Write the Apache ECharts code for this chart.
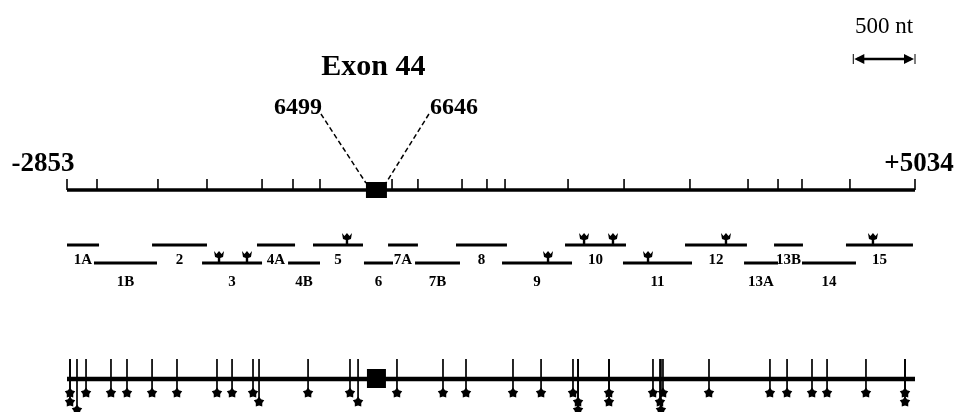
<!DOCTYPE html>
<html><head><meta charset="utf-8">
<script src="https://cdn.jsdelivr.net/npm/echarts@6/dist/echarts.min.js"></script>
<style>html,body{margin:0;padding:0;background:#fff}#c{width:958px;height:412px}</style>
</head><body><div id="c"></div>
<script>
// ---- data (nucleotide positions) ----
const geneRange = [-2853, 5034];
const endLabels = ['-2853', '+5034'];
const exonName = 'Exon 44';
const exonBounds = ['6499', '6646'];
const exonCenter = 25;
const scaleBarLabel = '500 nt';
const scaleBarNt = [4460, 5034];
const rulerTicks = [-2853, -2574, -2007, -1551, -1039, -751, -500, 170, 411, 821, 1053, 1221, 1807, 2328, 2941, 3481, 3760, 3983, 4429, 5034];
const fragNamesTop = ['1A', '2', '4A', '5', '7A', '8', '10', '12', '13B', '15'];
const fragStartTop = [-2853, -2062, -1086, -565, 133, 765, 1779, 2895, 3723, 4392];
const fragEndTop = [-2555, -1551, -732, -100, 411, 1239, 2346, 3471, 3992, 5015];
const fragNamesBottom = ['1B', '3', '4B', '6', '7B', '9', '11', '13A', '14'];
const fragStartBottom = [-2602, -1597, -797, -91, 384, 1193, 2318, 3444, 3983];
const fragEndBottom = [-2016, -1039, -500, 179, 802, 1844, 2960, 3760, 4485];
const arrowsTop = [-249, 1956, 2225, 3276, 4643];
const arrowsBottom = [-1439, -1179, 1621, 2551];
const mutationPos = [-2825, -2825, -2760, -2676, -2444, -2295, -2062, -1830, -1458, -1318, -1123, -1067, -611, -221, -146, 216, 644, 858, 1295, 1556, 1853, 1900, 1900, 2188, 2188, 2597, 2690, 2662, 2671, 3118, 3685, 3844, 4076, 4216, 4578, 4941, 4941];
const mutationStack = [0, 1, 2, 0, 0, 0, 0, 0, 0, 0, 0, 1, 0, 0, 1, 0, 0, 0, 0, 0, 0, 1, 2, 0, 1, 0, 0, 1, 2, 0, 0, 0, 0, 0, 0, 0, 1];

// ---- layout (pixel rows on a 0..412 y scale) ----
const FONT = '"Liberation Serif", "Times New Roman", serif';
const ROW = { title: 67, scaleLabel: 27, scaleBar: 59, bound: 108, endLabel: 164, ruler: 190, tickTop: 179,
  fragTop: 245, fragBottom: 263, labTop: 260, labBottom: 282, mutTop: 359, mutLine: 379 };
const starRows = [393, 402, 410];

function txt(x, y, text, size, weight, align) {
  return { type: 'text', x: x, y: y, style: { text: text, fill: '#000', fontFamily: FONT, fontSize: size,
    fontWeight: weight, align: align || 'center', verticalAlign: 'middle' } };
}
function hline(api, a, b, y, w) {
  const p1 = api.coord([a, y]), p2 = api.coord([b, y]);
  return { type: 'line', shape: { x1: p1[0], y1: p1[1], x2: p2[0], y2: p2[1] }, style: { stroke: '#000', lineWidth: w } };
}
function starPts(cx, cy, r) {
  const pts = [];
  for (let i = 0; i < 10; i++) {
    const rr = i % 2 === 0 ? r : r * 0.62;
    const a = -Math.PI / 2 + i * Math.PI / 5;
    pts.push([cx + rr * Math.cos(a), cy + rr * Math.sin(a)]);
  }
  return pts;
}
function arrowPts(x, y) {
  return [[x - 5, y - 11], [x - 2.5, y - 8], [x, y - 11], [x + 2.5, y - 8], [x + 5, y - 11], [x + 4, y - 5],
    [x + 1.2, y - 4], [x + 1.2, y], [x - 1.2, y], [x - 1.2, y - 4], [x - 4, y - 5]];
}

const chart = echarts.init(document.getElementById('c'), null, { renderer: 'canvas' });
const series = [];

// ruler line with ticks, end labels
series.push({
  type: 'custom', data: [geneRange], silent: true,
  renderItem: function (params, api) {
    const a = api.value(0), b = api.value(1);
    const pa = api.coord([a, ROW.endLabel]), pb = api.coord([b, ROW.endLabel]);
    return { type: 'group', children: [
      hline(api, a, b, ROW.ruler, 3.5),
      hline(api, a, b, ROW.mutLine, 4.5),
      txt(pa[0] - 24, pa[1], endLabels[0], 27, 'bold'),
      txt(pb[0] + 4, pb[1], endLabels[1], 27, 'bold')
    ] };
  }
});
series.push({
  type: 'custom', data: rulerTicks.map(v => [v]), silent: true,
  renderItem: function (params, api) {
    const p1 = api.coord([api.value(0), ROW.tickTop]), p2 = api.coord([api.value(0), ROW.ruler]);
    return { type: 'line', shape: { x1: p1[0], y1: p1[1], x2: p2[0], y2: p2[1] }, style: { stroke: '#000', lineWidth: 1.6 } };
  }
});
// exon boxes, title, bounds, dashed leaders
series.push({
  type: 'custom', data: [[exonCenter]], silent: true,
  renderItem: function (params, api) {
    const c = api.coord([api.value(0), ROW.ruler]);
    const c2 = api.coord([api.value(0), ROW.mutLine]);
    const t = api.coord([api.value(0), ROW.title]);
    const bl = c[0] - 10.5, br = c[0] + 10.5, by = c[1] - 8;
    return { type: 'group', children: [
      { type: 'rect', shape: { x: bl, y: by, width: 21, height: 16 }, style: { fill: '#000' } },
      { type: 'rect', shape: { x: c2[0] - 9.5, y: c2[1] - 10, width: 19, height: 19 }, style: { fill: '#000' } },
      txt(t[0] - 3, t[1], exonName, 30, 'bold'),
      txt(bl - 44, ROW.bound, exonBounds[0], 24, 'bold', 'right'),
      txt(br + 43, ROW.bound, exonBounds[1], 24, 'bold', 'left'),
      { type: 'line', shape: { x1: bl - 45, y1: ROW.bound + 6, x2: bl, y2: by + 1 }, style: { stroke: '#000', lineWidth: 1.5, lineDash: [5, 3] } },
      { type: 'line', shape: { x1: br + 42, y1: ROW.bound + 6, x2: br - 1, y2: by + 1 }, style: { stroke: '#000', lineWidth: 1.5, lineDash: [5, 3] } }
    ] };
  }
});
// scale bar
series.push({
  type: 'custom', data: [scaleBarNt], silent: true,
  renderItem: function (params, api) {
    const p1 = api.coord([api.value(0), ROW.scaleBar]), p2 = api.coord([api.value(1), ROW.scaleBar]);
    const y = p1[1];
    return { type: 'group', children: [
      { type: 'line', shape: { x1: p1[0] + 4, y1: y, x2: p2[0] - 4, y2: y }, style: { stroke: '#000', lineWidth: 2.5 } },
      { type: 'line', shape: { x1: p1[0], y1: y - 5, x2: p1[0], y2: y + 5 }, style: { stroke: '#000', lineWidth: 1 } },
      { type: 'line', shape: { x1: p2[0], y1: y - 5, x2: p2[0], y2: y + 5 }, style: { stroke: '#000', lineWidth: 1 } },
      { type: 'polygon', shape: { points: [[p1[0] + 1, y], [p1[0] + 11, y - 5], [p1[0] + 11, y + 5]] }, style: { fill: '#000' } },
      { type: 'polygon', shape: { points: [[p2[0] - 1, y], [p2[0] - 11, y - 5], [p2[0] - 11, y + 5]] }, style: { fill: '#000' } },
      txt((p1[0] + p2[0]) / 2, ROW.scaleLabel, scaleBarLabel, 23, 'normal')
    ] };
  }
});
// fragments
function fragSeries(starts, ends, names, rowY, labY) {
  return {
    type: 'custom', data: starts.map((s, i) => [s, ends[i]]), silent: true,
    renderItem: function (params, api) {
      const s = api.value(0), e = api.value(1);
      const l = api.coord([(s + e) / 2, labY]);
      return { type: 'group', children: [hline(api, s, e, rowY, 3), txt(l[0], l[1], names[params.dataIndex], 15, 'bold')] };
    }
  };
}
series.push(fragSeries(fragStartTop, fragEndTop, fragNamesTop, ROW.fragTop, ROW.labTop));
series.push(fragSeries(fragStartBottom, fragEndBottom, fragNamesBottom, ROW.fragBottom, ROW.labBottom));
function arrowSeries(sites, rowY) {
  return {
    type: 'custom', data: sites.map(v => [v]), silent: true,
    renderItem: function (params, api) {
      const p = api.coord([api.value(0), rowY]);
      return { type: 'polygon', shape: { points: arrowPts(p[0], p[1] - 1) }, style: { fill: '#000' } };
    }
  };
}
series.push(arrowSeries(arrowsTop, ROW.fragTop));
series.push(arrowSeries(arrowsBottom, ROW.fragBottom));
// mutation sites
series.push({
  type: 'custom', data: mutationPos.map((v, i) => [v, mutationStack[i]]), silent: true,
  renderItem: function (params, api) {
    const sy = starRows[api.value(1)];
    const p1 = api.coord([api.value(0), ROW.mutTop]), p2 = api.coord([api.value(0), sy]);
    return { type: 'group', children: [
      { type: 'line', shape: { x1: p1[0], y1: p1[1], x2: p2[0], y2: p2[1] }, style: { stroke: '#000', lineWidth: 1.7 } },
      { type: 'polygon', shape: { points: starPts(p2[0], p2[1], 5.5) }, style: { fill: '#000' } }
    ] };
  }
});

chart.setOption({
  backgroundColor: '#fff',
  animation: false,
  grid: { left: 67, right: 43, top: 0, bottom: 0 },
  xAxis: { type: 'value', min: geneRange[0], max: geneRange[1], show: false },
  yAxis: { type: 'value', min: 0, max: 412, inverse: true, show: false },
  series: series
});
</script></body></html>
